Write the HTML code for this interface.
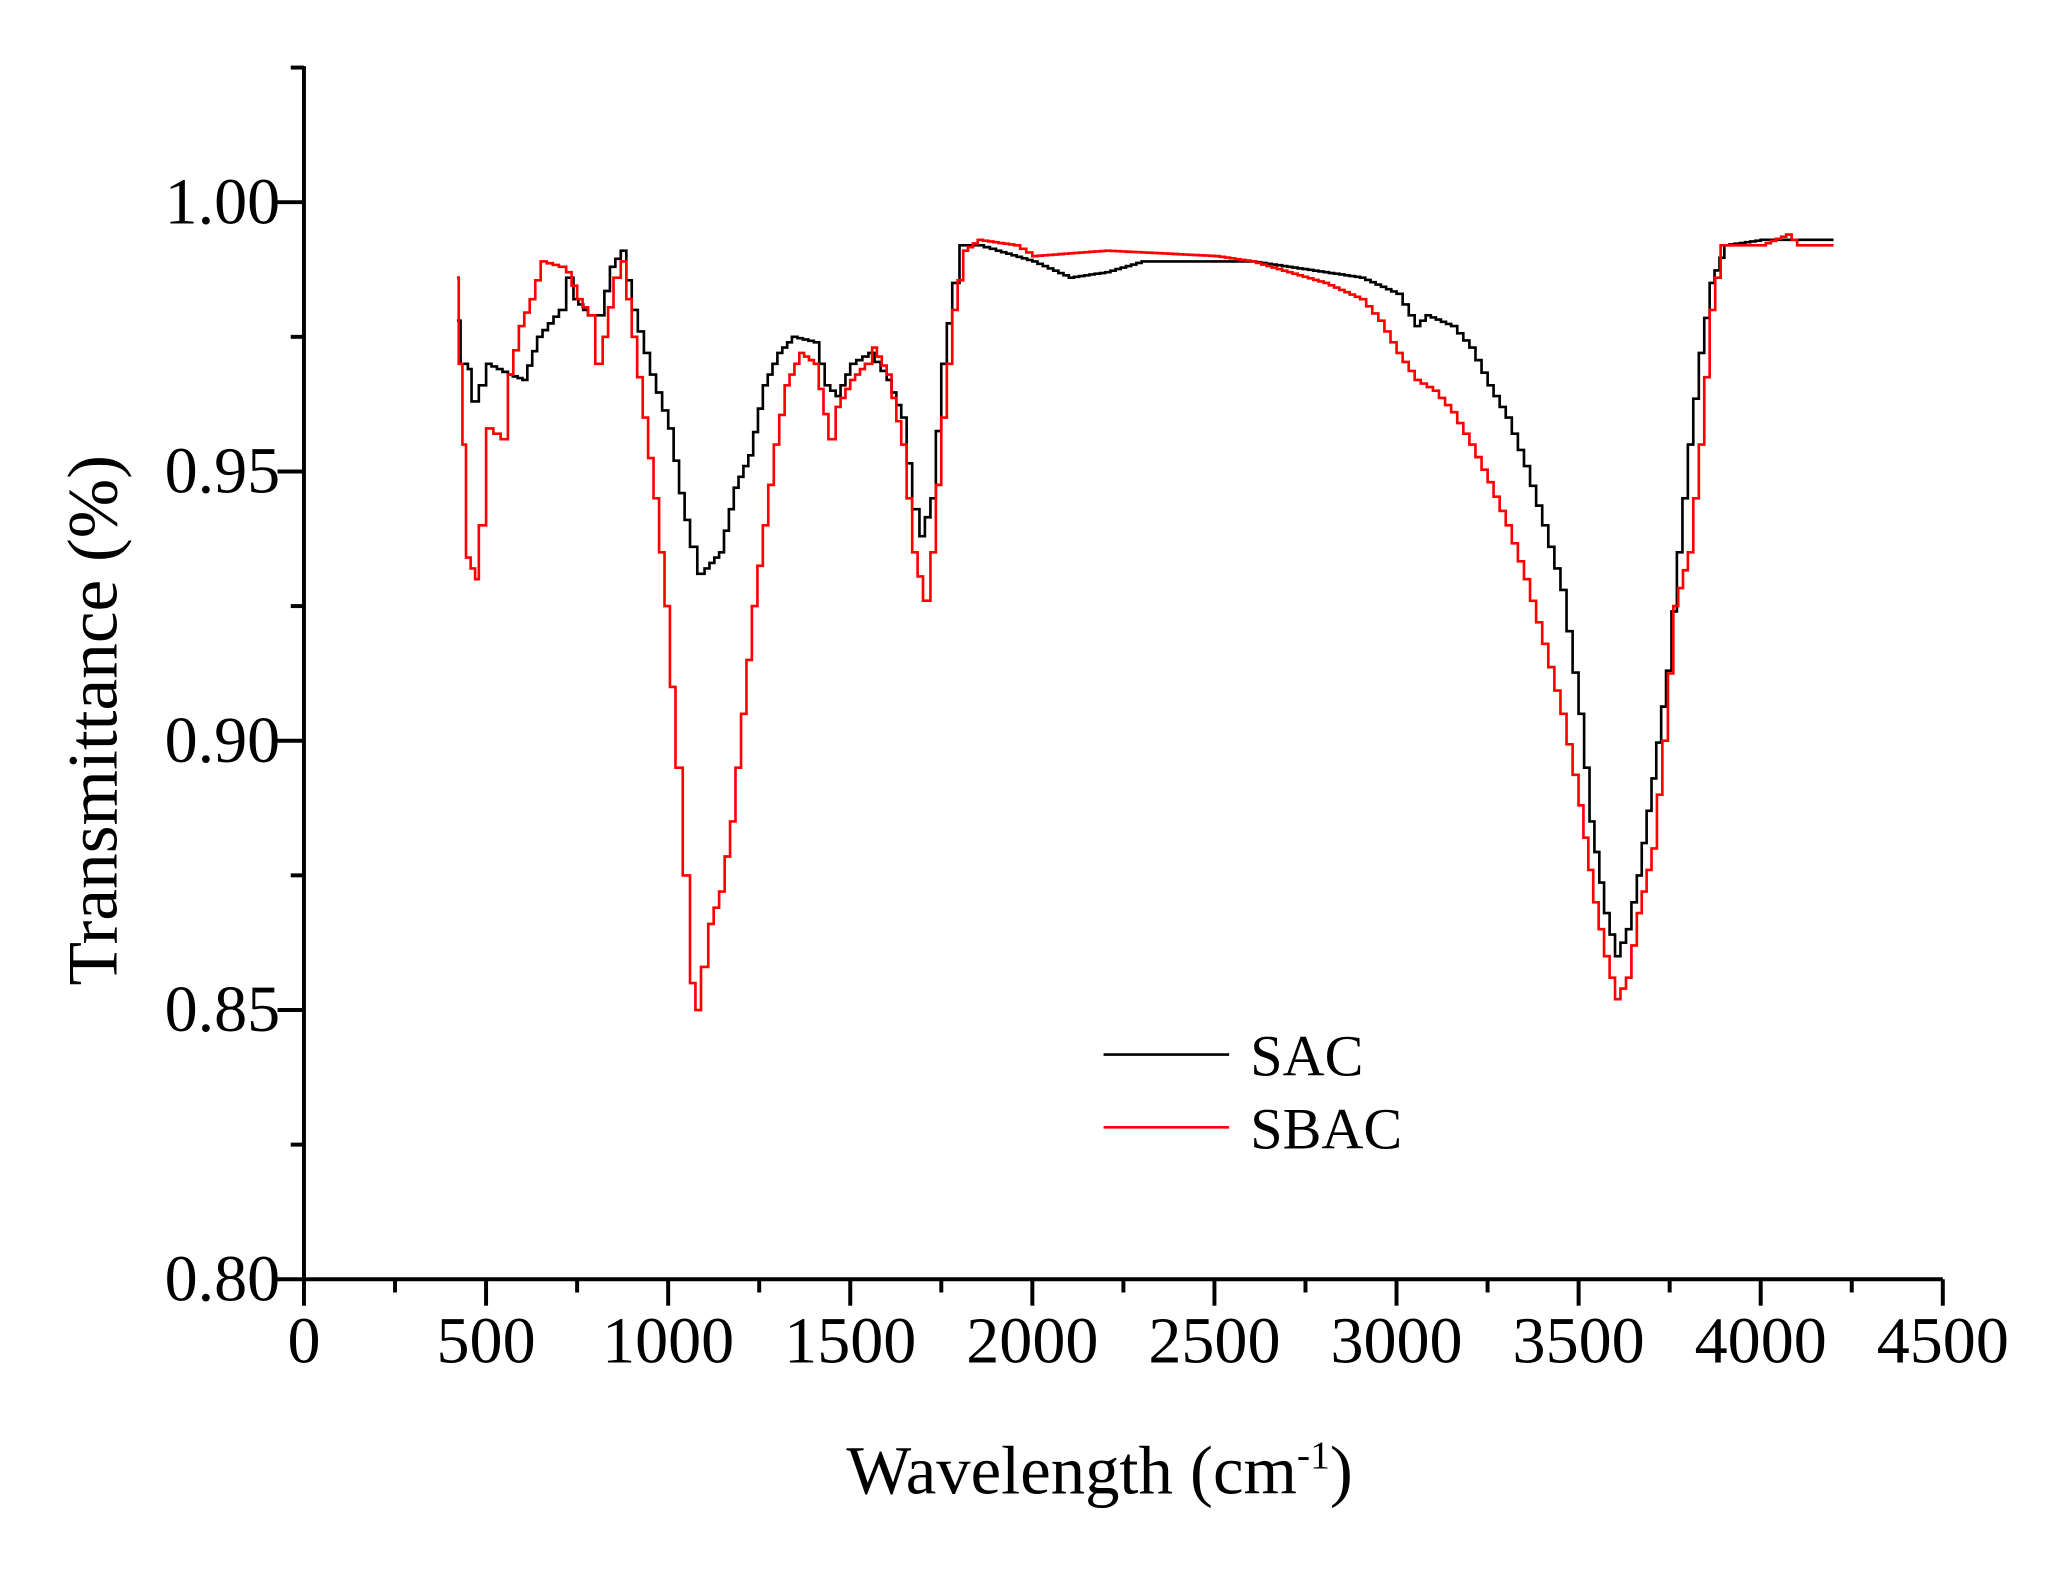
<!DOCTYPE html>
<html><head><meta charset="utf-8"><style>
html,body{margin:0;padding:0;background:#fff;}
svg{display:block;}
text{font-family:"Liberation Serif",serif;fill:#000;}
</style></head><body>
<svg id="s" width="2071" height="1570" viewBox="0 0 1567 1188" preserveAspectRatio="none" xmlns="http://www.w3.org/2000/svg">
<rect width="1567" height="1188" fill="#fff"/>
<g id="ax" stroke="#000" stroke-width="3" fill="none"></g>
<g id="lbl" font-size="50"></g>
<text x="832" y="1130" font-size="52" text-anchor="middle">Wavelength (cm<tspan dy="-19" font-size="30">-1</tspan><tspan dy="19">)</tspan></text>
<text transform="translate(88,545) rotate(-90)" font-size="54" text-anchor="middle">Transmittance (%)</text>
<path id="sac" fill="none" stroke="#000" stroke-width="2"/>
<path id="sbac" fill="none" stroke="#f00" stroke-width="2"/>
<line x1="835" y1="798" x2="930" y2="798" stroke="#000" stroke-width="2"/>
<line x1="835" y1="853" x2="930" y2="853" stroke="#f00" stroke-width="2"/>
<text x="946" y="814" font-size="44">SAC</text>
<text x="946" y="869" font-size="44">SBAC</text>
</svg>
<script>
var X=function(v){return 230+v*1240/4500;};
var Y=function(v){return 968-(v-0.8)*4075;};
var ax=document.getElementById('ax'),lb=document.getElementById('lbl');
var ns="http://www.w3.org/2000/svg";
function el(p,t,a,txt){var e=document.createElementNS(ns,t);for(var k in a)e.setAttribute(k,a[k]);if(txt!=null)e.textContent=txt;p.appendChild(e);return e;}
el(ax,'path',{d:'M230,50V968H1470'});
for(var i=0;i<=18;i++){var x=X(i*250);el(ax,'line',{x1:x,y1:968,x2:x,y2:i%2?978:988});
 if(i%2==0)el(lb,'text',{x:x,y:1031,'text-anchor':'middle'},String(i*250));}
for(var j=0;j<=9;j++){var v=0.8+j*0.025,y=Y(v);el(ax,'line',{x1:230,y1:y,x2:j%2?220:210,y2:y});
 if(j%2==0)el(lb,'text',{x:212,y:y+16,'text-anchor':'end'},v.toFixed(2));}
function path(d){var s='';for(var i=0;i<d.length;i+=2){var x=X(d[i]),y=Y(d[i+1]);
 if(i==0)s='M'+x+','+y;else{var px=X(d[i-2]);var n=Math.max(1,Math.round((x-px)/4));var py=Y(d[i-1]);
 for(var k=1;k<=n;k++){var xx=px+(x-px)*k/n,yy=py+(y-py)*k/n;s+='H'+xx.toFixed(1)+'V'+yy.toFixed(1);}}}return s;}
var sac=[420,.978,430,.970,450,.969,460,.963,480,.966,500,.970,530,.969,560,.968,600,.967,640,.975,700,.980,720,.986,740,.982,780,.979,810,.979,840,.988,870,.991,900,.980,950,.968,1000,.958,1030,.946,1060,.936,1080,.931,1100,.932,1140,.935,1180,.947,1220,.953,1260,.966,1300,.972,1340,.975,1400,.974,1430,.966,1460,.964,1500,.970,1550,.972,1600,.967,1640,.960,1670,.943,1690,.938,1720,.945,1750,.970,1780,.985,1800,.992,1850,.992,1900,.991,2000,.989,2100,.986,2200,.987,2300,.989,2600,.989,2700,.988,2800,.987,2900,.986,3000,.983,3050,.977,3080,.979,3150,.977,3200,.973,3250,.966,3300,.960,3350,.951,3400,.940,3450,.928,3500,.905,3530,.885,3570,.868,3600,.860,3630,.865,3660,.875,3700,.893,3740,.913,3770,.935,3800,.955,3830,.972,3860,.985,3900,.992,4000,.993,4200,.993];
var sbac=[420,.986,425,.970,435,.955,445,.934,470,.930,480,.940,500,.958,520,.957,540,.956,560,.968,590,.977,620,.982,650,.989,700,.988,720,.987,750,.982,780,.979,800,.970,820,.975,850,.986,870,.989,900,.975,930,.960,960,.945,990,.925,1020,.895,1040,.875,1060,.855,1075,.850,1090,.858,1110,.866,1140,.872,1170,.885,1200,.905,1230,.925,1260,.940,1290,.955,1320,.966,1360,.972,1400,.970,1440,.956,1460,.962,1500,.967,1540,.970,1560,.973,1600,.968,1640,.955,1670,.935,1700,.926,1720,.935,1750,.960,1780,.980,1810,.991,1850,.993,1950,.992,2000,.990,2200,.991,2500,.990,2600,.989,2700,.987,2800,.985,2900,.982,2950,.978,3000,.972,3050,.967,3100,.965,3150,.961,3200,.955,3250,.948,3300,.940,3350,.930,3400,.918,3450,.905,3500,.888,3540,.870,3570,.860,3600,.852,3630,.856,3660,.868,3700,.880,3730,.900,3760,.925,3800,.935,3830,.955,3860,.980,3890,.992,4000,.992,4070,.994,4100,.992,4200,.992];
document.getElementById('sac').setAttribute('d',path(sac));
document.getElementById('sbac').setAttribute('d',path(sbac));
</script>
</body></html>
